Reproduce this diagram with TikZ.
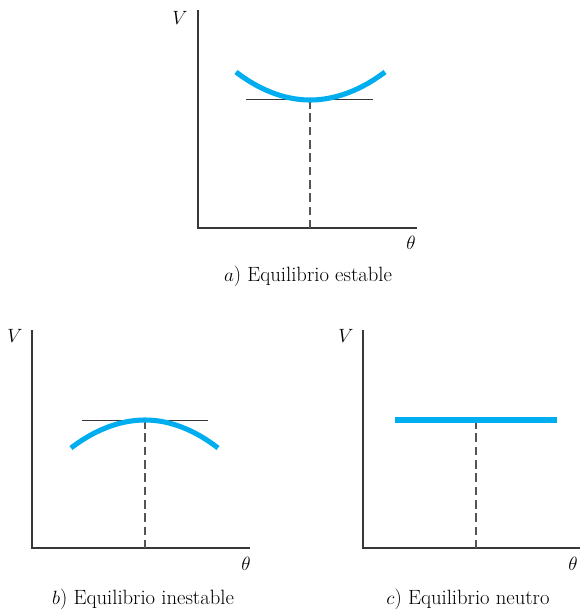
\documentclass[tikz,border=0pt]{standalone}
\usetikzlibrary{positioning}
\definecolor{curveblue}{RGB}{0,174,239}
\definecolor{axisgray}{RGB}{55,55,55}

\begin{document}
\begin{tikzpicture}[
  x=0.75pt, y=-0.75pt,
  axis/.style={draw=axisgray, line width=1.1pt},
  curve/.style={draw=curveblue, line width=3.8pt},
  tangent/.style={draw=axisgray, line width=0.7pt},
  guide/.style={draw=axisgray!85, dash pattern=on 6.5pt off 3.5pt, line width=0.8pt},
  every node/.style={font=\fontsize{15.5}{18}\selectfont, inner sep=0pt}
]
\useasboundingbox (0,0) rectangle (580,611);
\clip (0,0) rectangle (580,611);

% a) stable
\coordinate (aO) at (198,228);
\coordinate (aTop) at (198,10);
\coordinate (aEnd) at (417,228);
\coordinate (aMin) at (310,100);
\draw[axis] (aTop) -- (aO) -- (aEnd);
\node (aV) at (180,18) {$V$};
\node (aTh) at (411,243) {$\theta$};
\draw[tangent] (246,99.5) -- (373,99.5);
\draw[guide] (aMin) -- (aMin |- aO);
\draw[curve] (236,72) parabola bend (aMin) (385,72);
\node (acap) at (308,276) {$a$) Equilibrio estable};

% b) unstable
\coordinate (bO) at (32,548);
\coordinate (bTop) at (32,330);
\coordinate (bEnd) at (250,548);
\coordinate (bMax) at (145,420);
\draw[axis] (bTop) -- (bO) -- (bEnd);
\node (bV) at (15,336) {$V$};
\node (bTh) at (246,564) {$\theta$};
\draw[tangent] (82,420) -- (208,420);
\draw[guide] (bMax) -- (bMax |- bO);
\draw[curve] (71,448) parabola bend (bMax) (218,448);
\node (bcap) at (143,599) {$b$) Equilibrio inestable};

% c) neutral
\coordinate (cO) at (363,548);
\coordinate (cTop) at (363,330);
\coordinate (cEnd) at (582,548);
\coordinate (cMid) at (476,420);
\draw[axis] (cTop) -- (cO) -- (cEnd);
\node (cV) at (346,336) {$V$};
\node (cTh) at (573,564) {$\theta$};
\draw[guide] (cMid) -- (cMid |- cO);
\draw[curve] (395,420) -- (557,420);
\node (ccap) at (468,599) {$c$) Equilibrio neutro};
\end{tikzpicture}
\end{document}
